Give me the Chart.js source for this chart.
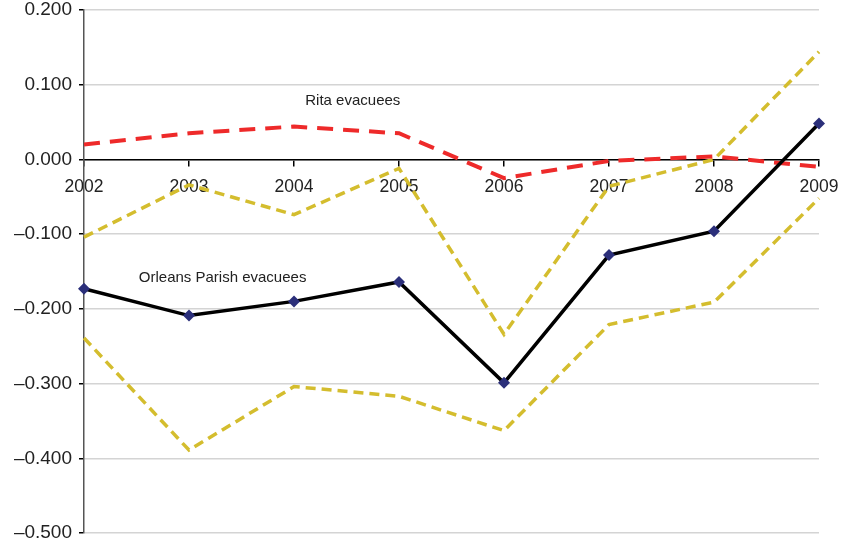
<!DOCTYPE html>
<html>
<head>
<meta charset="utf-8">
<script src="https://cdn.jsdelivr.net/npm/chart.js@4/dist/chart.umd.min.js"></script>
<style>
  html, body { margin: 0; padding: 0; background: #fff; }
  #wrap { width: 845px; height: 544px; }
</style>
</head>
<body>
<div id="wrap"><canvas id="grafico"></canvas></div>
<script>
const years = ['2002', '2003', '2004', '2005', '2006', '2007', '2008', '2009']
const orleans = [-0.173, -0.209, -0.190, -0.164, -0.299, -0.128, -0.096, 0.048]
const orleansUpper = [-0.104, -0.034, -0.074, -0.012, -0.234, -0.036, 0.000, 0.144]
const orleansLower = [-0.239, -0.389, -0.304, -0.317, -0.363, -0.221, -0.191, -0.052]
const rita = [0.020, 0.035, 0.044, 0.035, -0.025, -0.002, 0.004, -0.010]
const yTickValues = [0.2, 0.1, 0, -0.1, -0.2, -0.3, -0.4, -0.5]
const yTickLabels = ['0.200', '0.100', '0.000', '\u20130.100', '\u20130.200', '\u20130.300', '\u20130.400', '\u20130.500']

const notas = [
  { text: 'Rita evacuees', x: 2.56, y: 0.078 },
  { text: 'Orleans Parish evacuees', x: 1.32, y: -0.159 },
]

const notasPlugin = {
  id: 'notas',
  afterDatasetsDraw(chart) {
    const { ctx, scales } = chart
    ctx.save()
    ctx.font = '15px "Liberation Sans", Arial, sans-serif'
    ctx.fillStyle = '#222'
    ctx.textAlign = 'center'
    ctx.textBaseline = 'middle'
    notas.forEach((n) => {
      ctx.fillText(n.text, scales.x.getPixelForValue(n.x), scales.y.getPixelForValue(n.y))
    })
    ctx.restore()
  },
}

const amarillo = '#d4bd2e'

new Chart(document.getElementById('grafico'), {
  type: 'line',
  data: {
    labels: years,
    datasets: [
      {
        label: 'Orleans Parish evacuees',
        data: orleans,
        borderColor: '#000',
        borderWidth: 3.5,
        pointStyle: 'rectRot',
        pointRadius: 6,
        pointBackgroundColor: '#2b2f7a',
        pointBorderColor: '#2b2f7a',
        pointBorderWidth: 0,
        order: 1,
      },
      {
        label: 'Rita evacuees',
        data: rita,
        borderColor: '#ee2a2a',
        borderWidth: 4,
        borderDash: [16, 10],
        pointRadius: 0,
        order: 2,
      },
      {
        label: 'Upper',
        data: orleansUpper,
        borderColor: amarillo,
        borderWidth: 3.5,
        borderDash: [10, 6],
        pointRadius: 0,
        order: 3,
      },
      {
        label: 'Lower',
        data: orleansLower,
        borderColor: amarillo,
        borderWidth: 3.5,
        borderDash: [10, 6],
        pointRadius: 0,
        order: 3,
      },
    ],
  },
  options: {
    responsive: true,
    maintainAspectRatio: false,
    animation: false,
    layout: { padding: { left: 0, right: 26, top: 10, bottom: 11 } },
    plugins: { legend: { display: false }, tooltip: { enabled: false } },
    scales: {
      x: {
        position: { y: 0 },
        offset: false,
        afterFit: (s) => { s.paddingLeft = 0; s.paddingRight = 0 },
        grid: { drawOnChartArea: false, drawTicks: true, tickLength: 6, color: '#000', lineWidth: 1.5 },
        border: { color: '#000', width: 1.5 },
        ticks: {
          color: '#222',
          padding: 11,
          maxRotation: 0,
          font: { family: '"Liberation Sans", Arial, sans-serif', size: 17.5 },
        },
      },
      y: {
        min: -0.5,
        max: 0.2,
        afterFit: (s) => { s.width = 84; s.paddingTop = 0; s.paddingBottom = 0 },
        afterBuildTicks: (s) => { s.ticks = yTickValues.map((v) => ({ value: v })) },
        grid: { color: '#d4d4d4', lineWidth: 1.5, tickLength: 5, tickColor: '#000' },
        border: { color: '#555', width: 1.5 },
        ticks: {
          color: '#222',
          padding: 7,
          callback: (v) => yTickLabels[yTickValues.findIndex((t) => Math.abs(t - v) < 1e-9)],
          font: { family: '"Liberation Sans", Arial, sans-serif', size: 19 },
        },
      },
    },
  },
  plugins: [notasPlugin],
})
</script>
</body>
</html>
